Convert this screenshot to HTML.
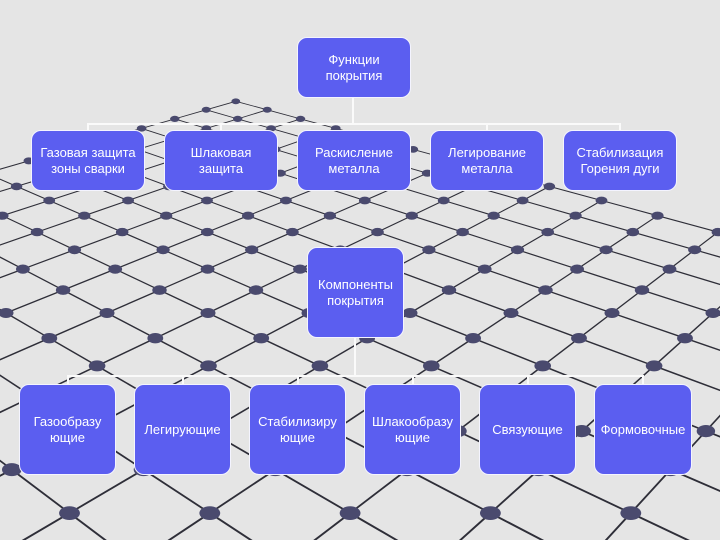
<!DOCTYPE html>
<html><head><meta charset="utf-8">
<style>
html,body{margin:0;padding:0;overflow:hidden;}
body{width:720px;height:540px;background:#e5e5e5;position:relative;overflow:hidden;font-family:"Liberation Sans",sans-serif;}
svg{position:absolute;left:0;top:0;overflow:hidden;}
.b{position:absolute;background:#5b5ef0;border:1.5px solid #f4f4ff;border-radius:10px;box-sizing:border-box;color:#fff;font-size:13px;line-height:16px;display:flex;align-items:center;justify-content:center;text-align:center;white-space:nowrap;}
.l{position:absolute;background:#fafafa;}
</style></head><body>
<svg id="g" width="720" height="540" viewBox="0 0 720 540"></svg>
<script>
(function(){
var s=document.getElementById('g');
var A=[107,313],du=[46,24],dv=[-55,24],a=-0.0467,b=-0.0467;
var eu=[du[0]+a*A[0],du[1]+a*A[1]],ev=[dv[0]+b*A[0],dv[1]+b*A[1]];
function P(u,v){var w=1+a*u+b*v;return [(A[0]+u*eu[0]+v*ev[0])/w,(A[1]+u*eu[1]+v*ev[1])/w,w];}
var h='';var U0=-6,U1=14,V0=-9,V1=10;
for(var u=U0;u<=U1;u++)for(var v=V0;v<=V1;v++){
 var p=P(u,v);if(p[2]<0.2)continue;
 if(u<U1){var q=P(u+1,v);if(q[2]>0.2)h+='<line x1="'+p[0].toFixed(1)+'" y1="'+p[1].toFixed(1)+'" x2="'+q[0].toFixed(1)+'" y2="'+q[1].toFixed(1)+'" stroke="#2e2e38" stroke-width="'+(1.4/p[2]).toFixed(2)+'"/>';}
 if(v<V1){var q2=P(u,v+1);if(q2[2]>0.2)h+='<line x1="'+p[0].toFixed(1)+'" y1="'+p[1].toFixed(1)+'" x2="'+q2[0].toFixed(1)+'" y2="'+q2[1].toFixed(1)+'" stroke="#2e2e38" stroke-width="'+(1.4/p[2]).toFixed(2)+'"/>';}
}
for(var u=U0;u<=U1;u++)for(var v=V0;v<=V1;v++){
 var p=P(u,v);if(p[2]<0.2)continue;
 if(p[0]<-30||p[0]>750||p[1]>570)continue;
 h+='<ellipse cx="'+p[0].toFixed(1)+'" cy="'+p[1].toFixed(1)+'" rx="'+(7.5/p[2]).toFixed(1)+'" ry="'+(5/p[2]).toFixed(1)+'" fill="#4a4a6e"/>';
}
s.innerHTML=h;
})();
</script>
<div class="l" style="left:352px;top:97px;width:2px;height:28px"></div>
<div class="l" style="left:87px;top:123px;width:533px;height:2px"></div>
<div class="l" style="left:87px;top:123px;width:2px;height:8px"></div>
<div class="l" style="left:220px;top:123px;width:2px;height:8px"></div>
<div class="l" style="left:486px;top:123px;width:2px;height:8px"></div>
<div class="l" style="left:619px;top:123px;width:2px;height:8px"></div>
<div class="l" style="left:354px;top:337px;width:2px;height:40px"></div>
<div class="l" style="left:67px;top:375px;width:577px;height:2px"></div>
<div class="l" style="left:67px;top:375px;width:2px;height:10px"></div>
<div class="l" style="left:182px;top:375px;width:2px;height:10px"></div>
<div class="l" style="left:297px;top:375px;width:2px;height:10px"></div>
<div class="l" style="left:412px;top:375px;width:2px;height:10px"></div>
<div class="l" style="left:527px;top:375px;width:2px;height:10px"></div>
<div class="l" style="left:642px;top:375px;width:2px;height:10px"></div>

<div class="b" style="left:297px;top:37px;width:114px;height:61px">Функции<br>покрытия</div>
<div class="b" style="left:31px;top:130px;width:114px;height:61px">Газовая защита<br>зоны сварки</div>
<div class="b" style="left:164px;top:130px;width:114px;height:61px">Шлаковая<br>защита</div>
<div class="b" style="left:297px;top:130px;width:114px;height:61px">Раскисление<br>металла</div>
<div class="b" style="left:430px;top:130px;width:114px;height:61px">Легирование<br>металла</div>
<div class="b" style="left:563px;top:130px;width:114px;height:61px">Стабилизация<br>Горения дуги</div>

<div class="b" style="left:307px;top:247px;width:97px;height:91px">Компоненты<br>покрытия</div>

<div class="b" style="left:19px;top:384px;width:97px;height:91px">Газообразу<br>ющие</div>
<div class="b" style="left:134px;top:384px;width:97px;height:91px">Легирующие</div>
<div class="b" style="left:249px;top:384px;width:97px;height:91px">Стабилизиру<br>ющие</div>
<div class="b" style="left:364px;top:384px;width:97px;height:91px">Шлакообразу<br>ющие</div>
<div class="b" style="left:479px;top:384px;width:97px;height:91px">Связующие</div>
<div class="b" style="left:594px;top:384px;width:98px;height:91px">Формовочные</div>
</body></html>
